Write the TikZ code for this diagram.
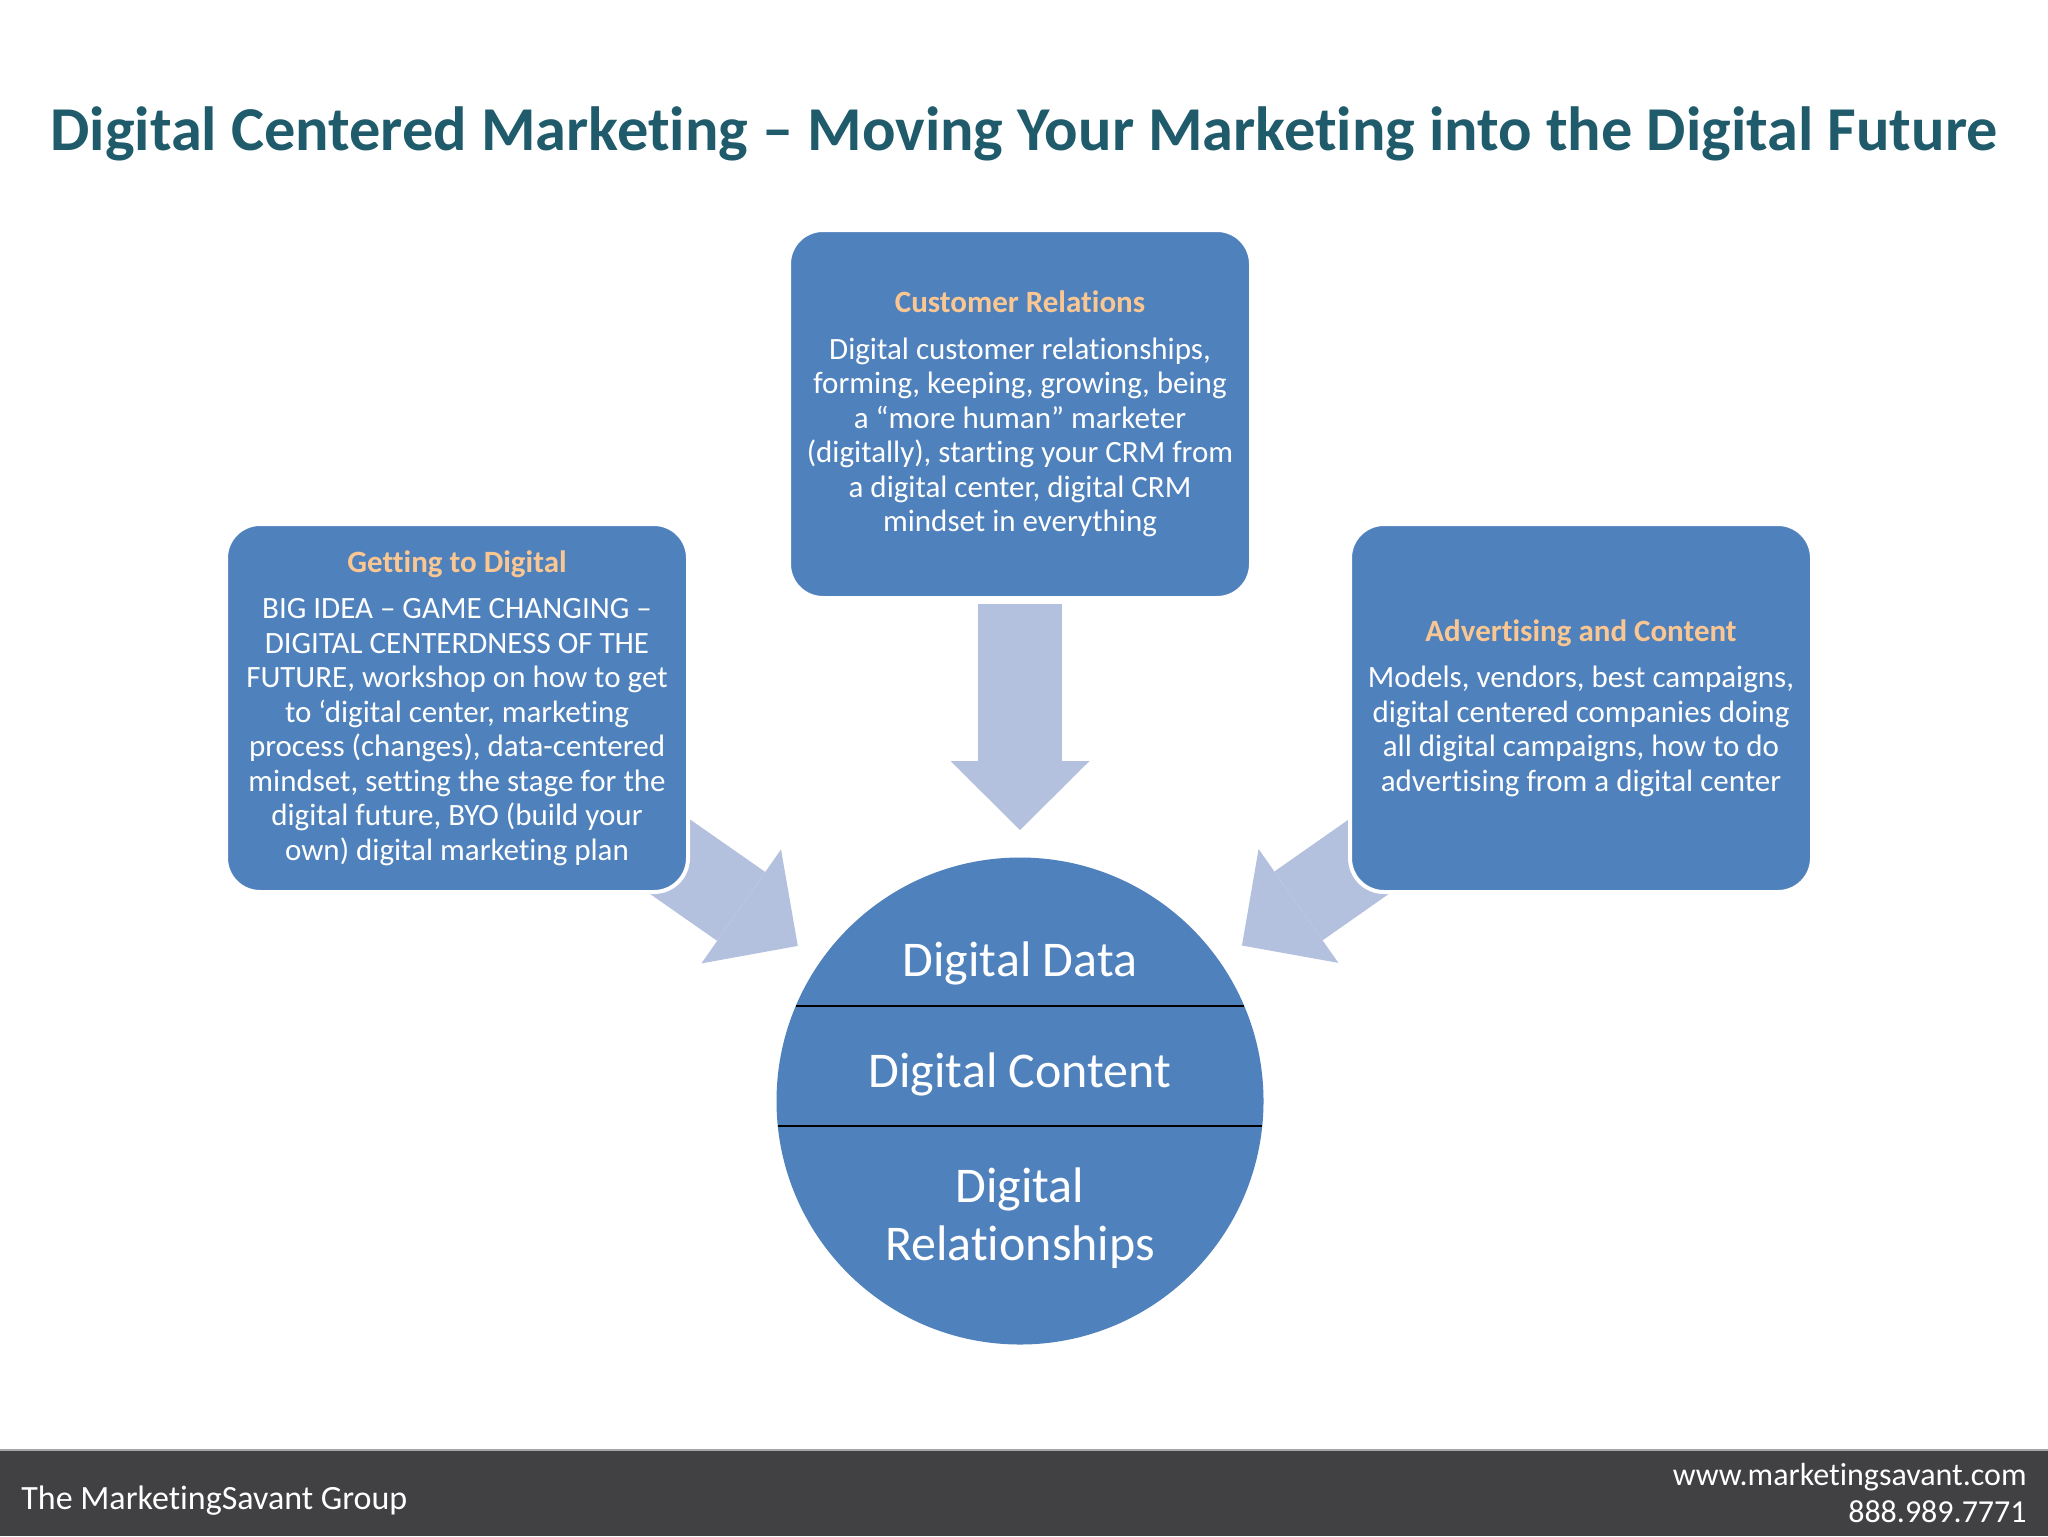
\documentclass[tikz,border=0pt]{standalone}
\usepackage{fontspec}
\setmainfont{Carlito}[Ligatures=CommonOff]
\usetikzlibrary{positioning, calc, arrows.meta, backgrounds}
\definecolor{boxblue}{HTML}{4F81BD}
\definecolor{flowblue}{HTML}{B3C1DE}
\definecolor{headteal}{HTML}{1F5B6B}
\definecolor{peach}{HTML}{FAC793}
\definecolor{bargrey}{HTML}{414042}
\tikzset{
	flow/.style={
		draw=flowblue,
		line width=42pt,
		-{Triangle[width=69.5pt, length=34.5pt, line width=0pt]}
	},
	topic/.style={
		rectangle,
		rounded corners=17pt,
		fill=boxblue,
		draw=white,
		line width=2pt,
		minimum width=231pt,
		minimum height=184pt,
		align=center,
		text=white,
		font=\fontsize{15.5pt}{17.25pt}\selectfont,
		inner sep=0pt,
		outer sep=0pt
	},
	core/.style={
		circle,
		fill=boxblue,
		minimum size=243.5pt,
		inner sep=0pt,
		outer sep=0pt
	},
	core text/.style={
		text=white,
		align=center,
		font=\fontsize{25pt}{29pt}\selectfont
	},
	foot/.style={
		text=white,
		inner sep=0pt,
		font=\fontsize{16pt}{18.5pt}\selectfont
	}
}
\newcommand{\topichead}[1]{% heading line of a topic box
	{\bfseries\color{peach}#1}\\[6pt]%
}

\begin{document}
\begin{tikzpicture}[x=0.5pt, y=-0.5pt]
	\useasboundingbox (0,0) rectangle (2048,1536);

	\node[text=headteal, font=\fontsize{31.2pt}{36pt}\selectfont\bfseries, anchor=base] (title) at (1024,150)
		{Digital Centered Marketing – Moving Your Marketing into the Digital Future};

	\node[core] (core) at (1020,1101) {};
	\node[topic, above=129.75pt of core] (cr) {\topichead{Customer Relations}
		Digital customer relationships,\\
		forming, keeping, growing, being\\
		a “more human” marketer\\
		(digitally), starting your CRM from\\
		a digital center, digital CRM\\
		mindset in everything};
	\node[topic] (gd) at (457,708) {\topichead{Getting to Digital}
		BIG IDEA – GAME CHANGING –\\
		DIGITAL CENTERDNESS OF THE\\
		FUTURE, workshop on how to get\\
		to ‘digital center, marketing\\
		process (changes), data-centered\\
		mindset, setting the stage for the\\
		digital future, BYO (build your\\
		own) digital marketing plan};
	\node[topic, right=331pt of gd] (ac) {\topichead{Advertising and Content}
		Models, vendors, best campaigns,\\
		digital centered companies doing\\
		all digital campaigns, how to do\\
		advertising from a digital center};

	% layers of the centre circle
	\node[core text, anchor=base] (dat) at ($(core)+(0,-125)$) {Digital Data};
	\node[core text, anchor=base] (cnt) at ($(core)+(0,-14)$) {Digital Content};
	\node[core text] (rel) at ($(core)+(0,117)$) {Digital\\Relationships};
	\draw[line width=1pt] (core.157) -- (core.23);
	\draw[line width=1pt] (core.-174) -- (core.-6);

	% arrows behind the boxes
	\begin{scope}[on background layer]
		\fill[white] (0,0) rectangle (2048,1536);
		\draw[flow] ($(gd.center)!95pt!(core.center)$) -- ($(core.center)!135.5pt!(gd.center)$);
		\draw[flow] ($(cr.center)!95pt!(core.center)$) -- ($(core.center)!135.5pt!(cr.center)$);
		\draw[flow] ($(ac.center)!95pt!(core.center)$) -- ($(core.center)!135.5pt!(ac.center)$);
	\end{scope}

	% footer
	\fill[bargrey] (0,1450) rectangle (2048,1536);
	\draw[black!35, line width=0.6pt] (0,1450) -- (2048,1450);
	\node[foot, font=\fontsize{17pt}{20pt}\selectfont, anchor=base west] (grp) at (21,1509) {The MarketingSavant Group};
	\node[foot, anchor=base east] (web) at (2027,1485) {www.marketingsavant.com};
	\node[foot, anchor=base east] (tel) at (2027,1522) {888.989.7771};
\end{tikzpicture}
\end{document}
